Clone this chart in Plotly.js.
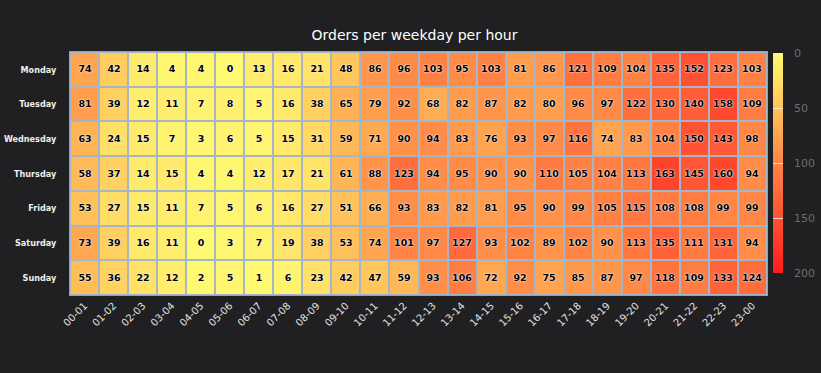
<!DOCTYPE html>
<html>
<head>
<meta charset="utf-8">
<script src="https://cdn.plot.ly/plotly-3.0.1.min.js"></script>
<style>html,body{margin:0;padding:0;background:#202022;}#chart{width:821px;height:373px;}</style>
</head>
<body>
<div id="chart"></div>
<script>
const hours = ["00-01","01-02","02-03","03-04","04-05","05-06","06-07","07-08","08-09","09-10","10-11","11-12","12-13","13-14","14-15","15-16","16-17","17-18","18-19","19-20","20-21","21-22","22-23","23-00"];
const weekdays = ["Monday","Tuesday","Wednesday","Thursday","Friday","Saturday","Sunday"];
const monday    = [74,42,14,4,4,0,13,16,21,48,86,96,103,95,103,81,86,121,109,104,135,152,123,103];
const tuesday   = [81,39,12,11,7,8,5,16,38,65,79,92,68,82,87,82,80,96,97,122,130,140,158,109];
const wednesday = [63,24,15,7,3,6,5,15,31,59,71,90,94,83,76,93,97,116,74,83,104,150,143,98];
const thursday  = [58,37,14,15,4,4,12,17,21,61,88,123,94,95,90,90,110,105,104,113,163,145,160,94];
const friday    = [53,27,15,11,7,5,6,16,27,51,66,93,83,82,81,95,90,99,105,115,108,108,99,99];
const saturday  = [73,39,16,11,0,3,7,19,38,53,74,101,97,127,93,102,89,102,90,113,135,111,131,94];
const sunday    = [55,36,22,12,2,5,1,6,23,42,47,59,93,106,72,92,75,85,87,97,118,109,133,124];
const colorTicks = [0,50,100,150,200];
const zMin = 0, zMax = 200;

const colorscale = [[0,'#FFFA72'],[0.25,'#FFC35A'],[0.5,'#FF8545'],[0.75,'#FF5233'],[1,'#FF1C1C']];
const z = [monday,tuesday,wednesday,thursday,friday,saturday,sunday];

// gradient for the colour-axis legend bar
const barSteps = [];
for (let v = zMin; v <= zMax; v += 1) barSteps.push(v);

const heat = {
  type:'heatmap', x:hours, y:weekdays, z:z,
  zmin:zMin, zmax:zMax, colorscale:colorscale, showscale:false,
  xgap:2, ygap:2,
  texttemplate:'%{z}',
  textfont:{family:'DejaVu Sans', size:9.5, color:'#000', weight:'bold', shadow:'0 0 2px #fff, 0 0 1px #fff'},
  hoverinfo:'x+y+z',
  xaxis:'x', yaxis:'y'
};
const bar = {
  type:'heatmap', x:[0], y:barSteps, z:barSteps.map(v=>[v]),
  zmin:zMin, zmax:zMax, colorscale:colorscale, showscale:false,
  hoverinfo:'skip', xaxis:'x2', yaxis:'y2'
};

const W = 821, H = 373, L = 70, R = 20, T = 52, B = 78;
const pw = W - L - R, ph = H - T - B;
const layout = {
  width:W, height:H,
  paper_bgcolor:'#202022', plot_bgcolor:'#a6b6c6',
  margin:{l:L, r:R, t:T, b:B, pad:0},
  title:{text:'Orders per weekday per hour', x:414.5/W, xref:'container', xanchor:'center',
         yref:'container', y:1-35/H, yanchor:'middle',
         font:{family:'DejaVu Sans', size:14, color:'#ffffff'}},
  xaxis:{domain:[0,(767-L)/pw], type:'category', tickangle:-45, showgrid:false, zeroline:false,
         tickfont:{family:'DejaVu Sans', size:10, color:'#e0e0e0'}, ticks:'',
         showline:true, mirror:true, linecolor:'#a0a0a0', linewidth:1},
  yaxis:{domain:[0,1], type:'category', autorange:'reversed', showgrid:false, zeroline:false,
         tickfont:{family:'DejaVu Sans Condensed', size:9, color:'#eeeeee', weight:'bold'}, ticks:'',
         ticklabelstandoff:11,
         showline:true, mirror:true, linecolor:'#a0a0a0', linewidth:1},
  xaxis2:{domain:[(773-L)/pw,(783-L)/pw], anchor:'y2', showticklabels:false, showgrid:false,
          zeroline:false, ticks:'', fixedrange:true},
  yaxis2:{domain:[(H-B-273)/ph,(H-B-53)/ph], anchor:'x2', side:'right', range:[zMax,zMin],
          tickvals:colorTicks, ticks:'inside', ticklen:10, tickcolor:'rgba(240,240,240,0.8)', tickwidth:1,
          showgrid:false, zeroline:false, ticklabelstandoff:10,
          tickfont:{family:'DejaVu Sans', size:11, color:'#6e6e6e'},
          showline:false},
  showlegend:false
};
Plotly.newPlot('chart',[heat,bar],layout,{displayModeBar:false, staticPlot:true});
</script>
</body>
</html>
